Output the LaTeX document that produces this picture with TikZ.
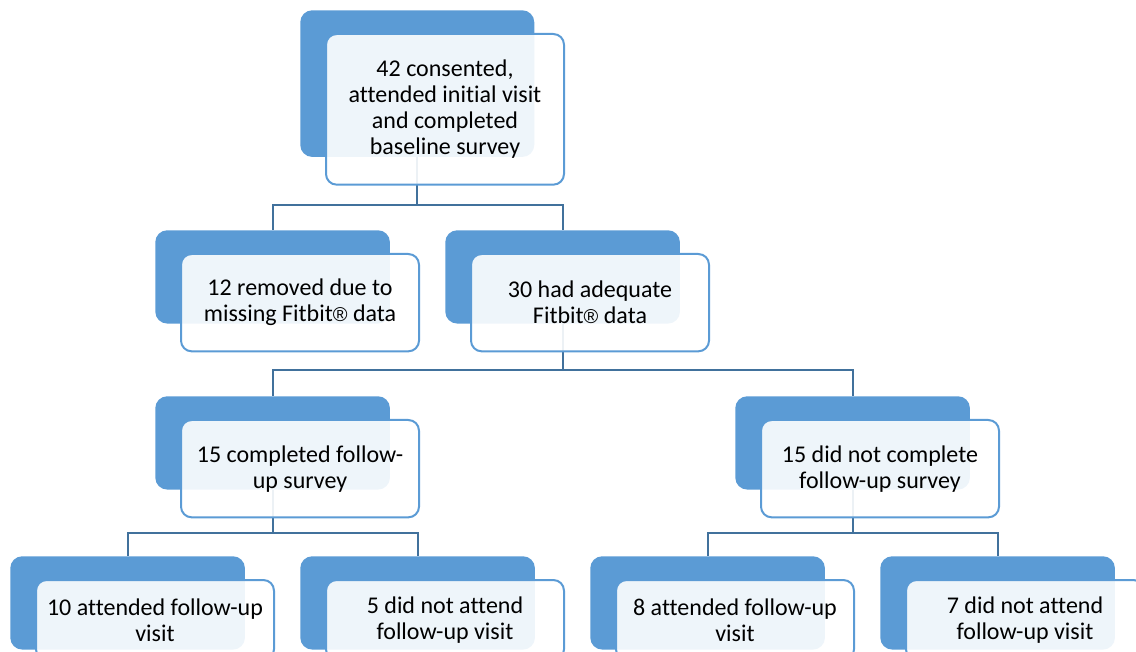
\documentclass[tikz,border=0pt]{standalone}
\usepackage{fontspec}
\setmainfont{Carlito}[Ligatures=NoCommon]
\newfontfamily\regfont{Liberation Sans}
\newcommand{\regmark}{{\regfont\fontsize{15}{19.5}\selectfont ®}}
\usetikzlibrary{backgrounds}
\definecolor{smartblue}{RGB}{91,155,213}
\definecolor{linkblue}{RGB}{65,113,156}
\tikzset{
  backbox/.style={anchor=north west, fill=smartblue, rounded corners=9pt, inner sep=0pt,
    minimum width=176pt, minimum height=70pt},
  frontbox/.style={anchor=north west, draw=smartblue, line width=1.5pt, fill=white,
    fill opacity=0.9, text opacity=1, rounded corners=8pt, inner sep=0pt,
    minimum width=178.5pt, minimum height=73pt, align=center,
    font=\fontsize{18}{19.5}\selectfont},
  link/.style={draw=linkblue, line width=1.5pt}
}
\begin{document}
\begin{tikzpicture}[x=0.75pt, y=-0.75pt]
  \useasboundingbox (0,0) rectangle (1136,652);
  \clip (0,0) rectangle (1136,652);
  % top box
  \node[backbox, minimum width=175.5pt, minimum height=110pt] (cons) at (300,10) {};
  \node[frontbox, minimum height=113pt] (cons-f) at (325,33)
    {42 consented,\\attended initial visit\\and completed\\baseline survey};
  % lower levels
  \foreach \n/\x/\y/\h/\t in {
      rem/155/230/73pt/{12 removed due to\\missing Fitbit\regmark{} data},
      ade/445/230/73pt/{30 had adequate\\Fitbit\regmark{} data},
      comp/155/396/73pt/{15 completed follow-\\up survey},
      ncomp/735/396/73pt/{15 did not complete\\follow-up survey},
      att10/10/556/60pt/{10 attended follow-up\\visit},
      natt5/300/556/60pt/{5 did not attend\\follow-up visit},
      att8/590/556/60pt/{8 attended follow-up\\visit},
      natt7/880/556/60pt/{7 did not attend\\follow-up visit}} {
    \node[backbox] (\n) at (\x,\y) {};
    \node[frontbox, minimum height=\h] (\n-f) at (\x+25,\y+23) {\t};
  }
  % connectors
  \begin{scope}[on background layer]
    \draw[link] (cons.south) -- (cons.south |- 0,205) -| (rem.north);
    \draw[link] (cons.south |- 0,205) -| (ade.north);
    \draw[link] (ade.south) -- (ade.south |- 0,370) -| (comp.north);
    \draw[link] (ade.south |- 0,370) -| (ncomp.north);
    \draw[link] (comp.south) -- (comp.south |- 0,533) -| (att10.north);
    \draw[link] (comp.south |- 0,533) -| (natt5.north);
    \draw[link] (ncomp.south) -- (ncomp.south |- 0,533) -| (att8.north);
    \draw[link] (ncomp.south |- 0,533) -| (natt7.north);
  \end{scope}
\end{tikzpicture}
\end{document}
